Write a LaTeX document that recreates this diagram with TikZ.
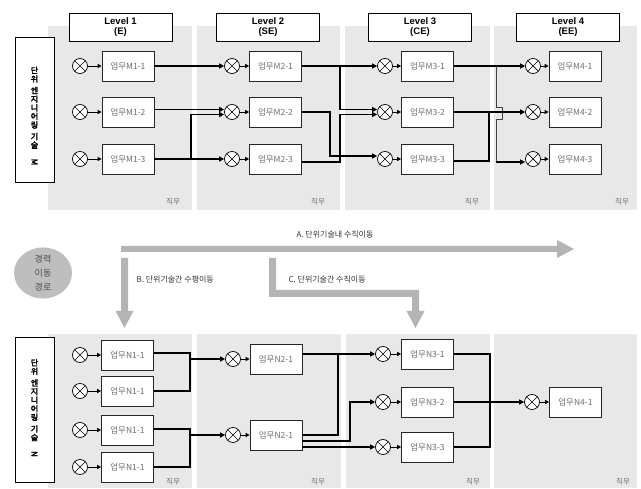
\documentclass[tikz,border=0pt]{standalone}
\usepackage{fontspec}
\usepackage{graphicx}
\setmainfont{Liberation Sans}
\newfontfamily\kr{Noto Sans CJK KR}
\newfontfamily\krb[FakeBold=3]{Noto Sans CJK KR}
\usetikzlibrary{arrows.meta,calc,shapes.geometric}
\definecolor{colbg}{HTML}{E8E8E8}
\definecolor{arrgray}{HTML}{B4B4B4}
\definecolor{ellgray}{HTML}{BEBEBE}
\definecolor{txtgray}{HTML}{6E6E6E}
\tikzset{
  colbox/.style={fill=colbg, draw=none},
  lvlbox/.style={draw=black, line width=0.8pt, fill=white, minimum width=103pt, minimum height=28pt,
    align=center, font=\bfseries\fontsize{9.5}{10.5}\selectfont, inner sep=0pt},
  task/.style={draw=black!85, line width=0.7pt, fill=white, minimum width=52pt, minimum height=30pt,
    inner sep=0pt, font=\kr\fontsize{8.5}{9}\selectfont, text=txtgray},
  xc/.style={circle, draw=black, line width=0.7pt, fill=white, minimum size=15pt, inner sep=0pt,
    path picture={\draw[line width=0.7pt]
      ([shift={(45:8pt)}]path picture bounding box.center) -- ([shift={(225:8pt)}]path picture bounding box.center)
      ([shift={(135:8pt)}]path picture bounding box.center) -- ([shift={(-45:8pt)}]path picture bounding box.center);}},
  conn/.style={line width=1.6pt, -{Triangle[length=5pt,width=5pt]}},
  plainline/.style={line width=1.6pt},
  bridgeline/.style={line width=0.8pt, draw=black!75},
  shortarr/.style={line width=0.9pt, -{Triangle[length=4pt,width=4pt]}},
  tallbox/.style={draw=black, line width=1pt, fill=white, minimum width=39pt, minimum height=145pt, inner sep=0pt},
  vtext/.style={font=\krb\fontsize{8}{8.6}\selectfont, align=center, inner sep=0pt},
  job/.style={font=\kr\fontsize{7.5}{8}\selectfont, text=txtgray},
  lab/.style={font=\kr\fontsize{8}{9}\selectfont, text=black!80},
  bigarr/.style={fill=arrgray, draw=none}
}
\begin{document}
\begin{tikzpicture}[x=1pt,y=-1pt]
\useasboundingbox (0,0) rectangle (641,489);

% ---------- top section columns ----------
\fill[colbox] (48,26) rectangle (192,210);
\fill[colbox] (197,26) rectangle (340,210);
\fill[colbox] (345,26) rectangle (490,210);
\fill[colbox] (494,26) rectangle (637,210);

\node[lvlbox] (lv1) at (120.5,27) {Level 1\\(E)};
\node[lvlbox] (lv2) at (268,27) {Level 2\\(SE)};
\node[lvlbox] (lv3) at (420,27) {Level 3\\(CE)};
\node[lvlbox] (lv4) at (568,27) {Level 4\\(EE)};

\node[tallbox] (tallM) at (34.5,110.5) {};
\node[vtext] (vtM) at (34.5,116) {단\\위\\[3pt]엔\\지\\니\\어\\링\\[3pt]기\\술\\[2pt]\rotatebox{-90}{M}};

\node[job] (jm1) at (173,202) {직무};
\node[job] (jm2) at (318,202) {직무};
\node[job] (jm3) at (472,202) {직무};
\node[job] (jm4) at (622,202) {직무};

% circles and tasks, top
\foreach \r/\y in {1/66,2/112,3/159}{
  \node[xc] (c1\r) at (80,\y) {};
  \node[task] (m1\r) at (128,\y) {업무M1-\r};
  \node[xc] (c2\r) at (232,\y) {};
  \node[task] (m2\r) at (275.5,\y) {업무M2-\r};
  \node[xc] (c3\r) at (385,\y) {};
  \node[task] (m3\r) at (427.5,\y) {업무M3-\r};
  \node[xc] (c4\r) at (533,\y) {};
  \node[task] (m4\r) at (575,\y) {업무M4-\r};
  \draw[shortarr] (c1\r) -- (m1\r);
  \draw[shortarr] (c2\r) -- (m2\r);
  \draw[shortarr] (c3\r) -- (m3\r);
  \draw[shortarr] (c4\r) -- (m4\r);
}

\coordinate (xa) at (191,0);
\coordinate (xb) at (330,0);
\coordinate (xc) at (340,0);
\coordinate (xd) at (489,0);
\coordinate (xe) at (496,0);

% level 1 -> level 2
\draw[conn] (m11.east) -- (c21.west);
\draw[conn] ([yshift=2.5pt]m12.east) -- ([yshift=2.5pt]c22.west);
\draw[conn] (m13.east) -- (c23.west);
\draw[conn] (m13.east -| xa) |- ([yshift=-2.5pt]c22.west);
% level 2 -> level 3
\draw[conn] (m21.east) -- (c31.west);
\draw[conn] (m21.east -| xc) |- ([yshift=2.5pt]c32.west);
\draw[conn] (m22.east) -| ([yshift=3pt]c33.west -| xb) -- ([yshift=3pt]c33.west);
\draw[conn] ([yshift=-3pt]m23.east) -| ([yshift=-2.5pt]c32.west -| xc) -- ([yshift=-2.5pt]c32.west);
% level 3 -> level 4
\draw[conn] (m31.east) -- (c41.west);
\draw[bridgeline] (m31.east -| xe) -- ([yshift=5pt]m32.east -| xe) -- ++(6,0) -- ++(0,12) -- ++(-6,0)
  -- ([yshift=-3pt]c43.west -| xe);
\draw[conn] ([yshift=-3pt]c43.west -| xe) -- ([yshift=-3pt]c43.west);
\draw[conn] (m32.east) -- (c42.west);
\draw[plainline] ([yshift=-2pt]m33.east) -| (m32.east -| xd);

% ---------- middle section ----------
\node[ellipse, fill=ellgray, minimum width=58pt, minimum height=50pt, inner sep=0pt, align=center,
  font=\kr\fontsize{9}{14}\selectfont, text=black!70] (path) at (43,273) {경력\\이동\\경로};

\fill[bigarr] (121,246) -- (557,246) -- (557,240) -- (574,249) -- (557,258) -- (557,252) -- (121,252) -- cycle;
\fill[bigarr] (121,258) -- (128,258) -- (128,311) -- (133.5,311) -- (124.5,328) -- (115.5,311) -- (121,311) -- cycle;
\fill[bigarr] (269,258) -- (276,258) -- (276,290) -- (419,290) -- (419,311) -- (424.5,311) -- (415.5,328)
  -- (406.5,311) -- (412,311) -- (412,297) -- (269,297) -- cycle;

\node[lab] (la) at (335,235) {A. 단위기술내 수직이동};
\node[lab, anchor=west] (lb) at (133,280) {B. 단위기술간 수평이동};
\node[lab, anchor=west] (lc) at (285,280) {C. 단위기술간 수직이동};

% ---------- bottom section ----------
\fill[colbox] (48,334) rectangle (192,488);
\fill[colbox] (197,334) rectangle (341,488);
\fill[colbox] (346,334) rectangle (490,488);
\fill[colbox] (494,334) rectangle (637,488);

\node[tallbox] (tallN) at (34.5,410.5) {};
\node[vtext] (vtN) at (34.5,408) {단\\위\\[3pt]엔\\지\\니\\어\\링\\[3pt]기\\술\\[2pt]\rotatebox{-90}{N}};

\node[job] (jn1) at (173,482) {직무};
\node[job] (jn2) at (318,482) {직무};
\node[job] (jn3) at (473,482) {직무};
\node[job] (jn4) at (623,482) {직무};

\foreach \k/\y in {1/355,2/391,3/430,4/467}{
  \node[xc] (d1\k) at (80,\y) {};
  \node[task] (n1\k) at (127.5,\y) {업무N1-1};
  \draw[shortarr] (d1\k) -- (n1\k);
}
\foreach \k/\y in {1/359,2/435}{
  \node[xc] (d2\k) at (233,\y) {};
  \node[task] (n2\k) at (276,\y) {업무N2-1};
  \draw[shortarr] (d2\k) -- (n2\k);
}
\foreach \k/\y in {1/354,2/402,3/447}{
  \node[xc] (d3\k) at (383,\y) {};
  \node[task] (n3\k) at (427.5,\y) {업무N3-\k};
  \draw[shortarr] (d3\k) -- (n3\k);
}
\node[xc] (d41) at (532,402) {};
\node[task] (n41) at (575.5,402) {업무N4-1};
\draw[shortarr] (d41) -- (n41);

\coordinate (ya) at (190,0);
\coordinate (yb) at (338,0);
\coordinate (yc) at (350,0);
\coordinate (yd) at (490,0);

\draw[plainline] ([yshift=2pt]n11.east) -| (n12.east -| ya) -- (n12.east);
\draw[conn] (d21.west -| ya) -- (d21.west);
\draw[plainline] ([yshift=1pt]n13.east) -| (n14.east -| ya) -- (n14.east);
\draw[conn] (d22.west -| ya) -- (d22.west);

\draw[conn] ([yshift=5pt]n21.east) -- (d31.west);
\draw[plainline] (n22.east) -| (d31.west -| yb);
\draw[conn] ([yshift=-6pt]n22.east) -| (d32.west -| yc) -- (d32.west);
\draw[conn] ([yshift=-12pt]n22.east) -- (d33.west);

\draw[plainline] (n31.east) -| (n33.east -| yd) -- (n33.east);
\draw[conn] (n32.east) -- (d41.west);
\end{tikzpicture}
\end{document}
